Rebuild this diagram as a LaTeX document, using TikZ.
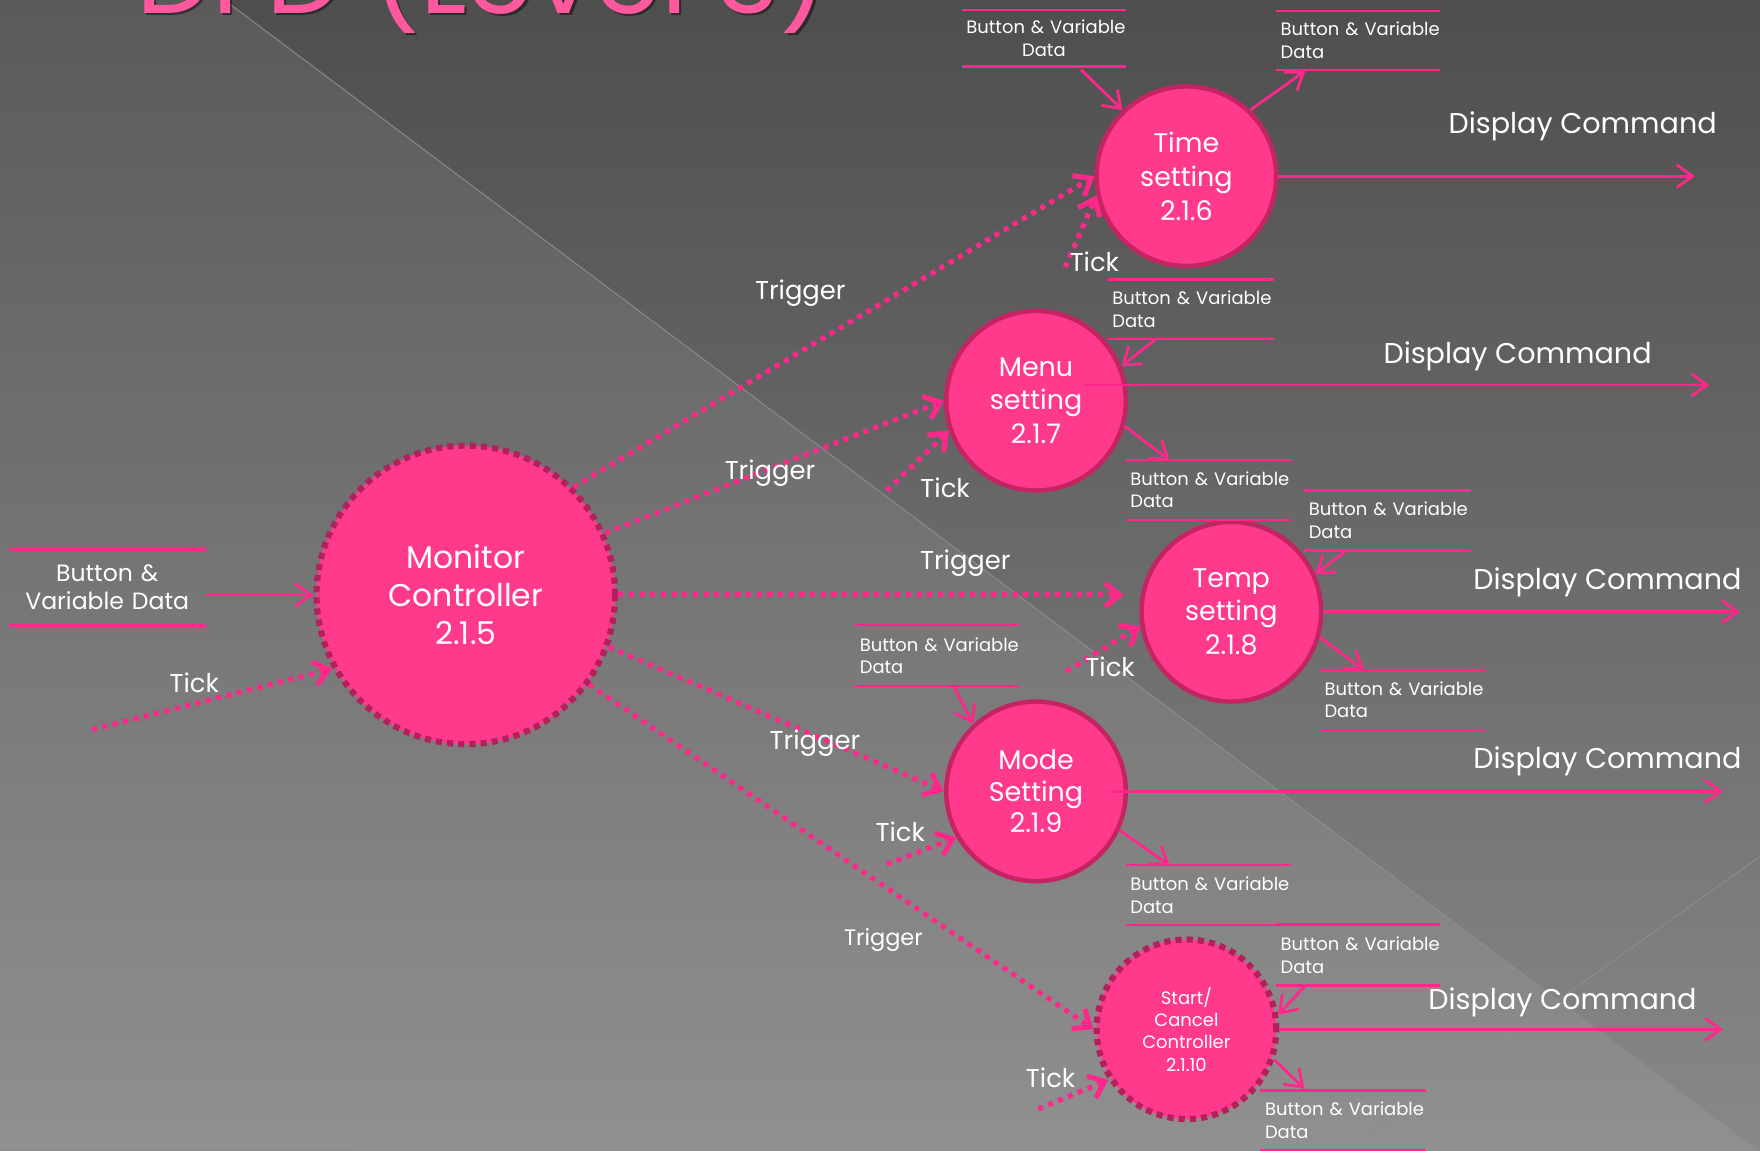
\documentclass[tikz,border=0pt]{standalone}
\usepackage{fontspec}
\setmainfont{Poppins}
\usetikzlibrary{arrows.meta,calc}
\definecolor{pinkfill}{RGB}{255,58,140}
\definecolor{pinkline}{RGB}{255,40,138}
\definecolor{pinkborder}{RGB}{196,36,98}
\definecolor{pinkdash}{RGB}{180,32,92}
\definecolor{titlepink}{RGB}{255,88,158}
\definecolor{bgtop}{RGB}{78,78,78}
\definecolor{bgbot}{RGB}{136,136,136}
\definecolor{bgline}{RGB}{140,140,140}
\newcommand\myfs[2]{\fontsize{#1}{#2}\selectfont}
\newcommand\bvd{\mbox{Button \& Variable}\\Data}
\begin{document}
\begin{tikzpicture}[x=1pt,y=-1pt,
  proc/.style={circle, fill=pinkfill, draw=pinkborder, line width=4pt,
    minimum size=160pt, inner sep=0pt, text=white, align=center,
    font=\myfs{24}{30}},
  dproc/.style={proc, draw=pinkdash, line width=5.5pt, dash pattern=on 5.5pt off 4.5pt},
  storeline/.style={draw=pinkline, line width=2.3pt},
  store/.style={inner xsep=4pt, inner ysep=0pt, text width=#1, text=white,
    align=left, font=\myfs{16}{20},
    append after command={
      (\tikzlastnode.north west) edge[storeline] (\tikzlastnode.north east)
      (\tikzlastnode.south west) edge[storeline] (\tikzlastnode.south east)}},
  flow/.style={draw=pinkline, line width=2.5pt,
    -{Straight Barb[length=14pt,width=20pt]}},
  dflow/.style={draw=pinkline, line width=4.5pt, dash pattern=on 4.5pt off 5pt,
    -{Straight Barb[length=13pt,width=21pt]}},
  lbl/.style={text=white, anchor=base, inner sep=0pt, font=\myfs{23}{26}},
  dlbl/.style={text=white, anchor=base, inner sep=0pt, font=\myfs{25.5}{30}}
]
\useasboundingbox (0,0) rectangle (1568,1025);
\clip (0,0) rectangle (1568,1025);
% background
\shade[top color=bgtop, bottom color=bgbot] (0,0) rectangle (1568,1025);
\fill[white, opacity=0.07] (0,0) -- (200,0) -- (1568,1026) -- (0,1025) -- cycle;
\draw[bgline, line width=0.8pt] (200,0) -- (1568,1026);
\draw[bgline, line width=0.8pt] (1568,763) -- (1200,1025);
% title
\node[anchor=base west, inner sep=0pt, text=black, opacity=0.45, font=\myfs{96}{100}] (titleshadow) at (123,14) {DFD (Level 3)};
\node[anchor=base west, inner sep=0pt, text=titlepink, font=\myfs{96}{100}] (title) at (121,12) {DFD (Level 3)};
% processes
\node[dproc, minimum size=266pt, font=\myfs{28}{34}] (mon) at (415,530) {Monitor\\Controller\\2.1.5};
\node[proc] (time) at (1057,157) {Time\\setting\\2.1.6};
\node[proc] (menu) at (923,357) {Menu\\setting\\2.1.7};
\node[proc] (temp) at (1097,545) {Temp\\setting\\2.1.8};
\node[proc, font=\myfs{24}{28}] (mode) at (923,705) {Mode\\Setting\\2.1.9};
\node[dproc, font=\myfs{16}{20}] (start) at (1057,917) {Start/\\Cancel\\Controller\\2.1.10};
% data stores
\node[store=167pt, align=center, minimum height=67pt, font=\myfs{21}{25}] (sL) at (95.5,523.5) {Button \&\\\mbox{Variable Data}};
\node[store=138pt, align=center, minimum height=50pt] (sTTL) at (930,34) {\bvd};
\node[store=138pt, minimum height=52pt] (sTTR) at (1210,36) {\bvd};
\node[store=140pt, minimum height=53pt] (sMT) at (1061,275.5) {\bvd};
\node[store=139pt, minimum height=53pt] (sMB) at (1076.5,436.5) {\bvd};
\node[store=140pt, minimum height=53pt] (sTpT) at (1236,463.5) {\bvd};
\node[store=139pt, minimum height=53pt] (sTpB) at (1249.5,623.5) {\bvd};
\node[store=138pt, minimum height=54pt] (sMoT) at (835,584) {\bvd};
\node[store=139pt, minimum height=53pt] (sMoB) at (1076.5,797.5) {\bvd};
\node[store=138pt, minimum height=54pt] (sST) at (1210,851) {\bvd};
\node[store=139pt, minimum height=53pt] (sSB) at (1196.5,998) {\bvd};
% free ends
\coordinate (tk0) at (82,650);
\coordinate (tk1) at (949,238);
\coordinate (tk2) at (790,437);
\coordinate (tk3) at (950,598);
\coordinate (tk4) at (790,770);
\coordinate (tk5) at (925,988);
\coordinate (a1) at (963,62);
\coordinate (a2) at (1163,63);
\coordinate (a3) at (1030,302);
\coordinate (a4) at (1042,410);
\coordinate (a5) at (1200,490);
\coordinate (a6) at (1215,597);
\coordinate (a7) at (850,612);
\coordinate (a8) at (1042,771);
\coordinate (a9) at (1163,878);
\coordinate (a10) at (1162,970);
\coordinate (d1) at (1510,157);
\coordinate (d2) at (1523,343);
\coordinate (d3) at (1550,545);
\coordinate (d4) at (1535,705);
\coordinate (d5) at (1535,917);
% inputs to monitor
\draw[flow] (sL.east |- mon.west) -- (mon.west);
\draw[dflow] (tk0) -- (mon.209);
% triggers
\draw[dflow] (mon.45) -- (time.180);
\draw[dflow] (mon.24) -- (menu.180);
\draw[dflow, shorten >=14pt] (mon.east) -- (mon.east -| temp.west);
\draw[dflow] (mon.-20) -- (mode.180);
\draw[dflow] (mon.-36) -- (start.180);
% ticks
\draw[dflow] (tk1) -- (time.192);
\draw[dflow] (tk2) -- (menu.199);
\draw[dflow] (tk3) -- (temp.189);
\draw[dflow] (tk4) -- (mode.210);
\draw[dflow] (tk5) -- (start.213);
% store flows and display commands
\draw[flow] (a1) -- (time.134);
\draw[flow] (time.46) -- (a2);
\draw[flow] (time.0) -- (d1);
\draw[flow] (a3) -- (menu.22);
\draw[flow] ([xshift=42pt,yshift=14pt]menu.center) -- (d2);
\draw[flow] (menu.-16) -- (a4);
\draw[flow] (a5) -- (temp.24);
\draw[flow] (temp.0) -- (d3);
\draw[flow] (temp.-16) -- (a6);
\draw[flow] (a7) -- (mode.133);
\draw[flow] ([xshift=67pt]mode.center) -- (d4);
\draw[flow] (mode.-25) -- (a8);
\draw[flow] (a9) -- (start.9);
\draw[flow] (start.0) -- (d5);
\draw[flow] (start.-19) -- (a10);
% labels
\node[lbl] (ltk0) at (173,617) {Tick};
\node[lbl] (ltr1) at (713,267) {Trigger};
\node[lbl] (ltr2) at (686,427) {Trigger};
\node[lbl] (ltr3) at (860,507) {Trigger};
\node[lbl] (ltr4) at (726,668) {Trigger};
\node[lbl, font=\myfs{20}{24}] (ltr5) at (787,842) {Trigger};
\node[lbl] (ltk1) at (975,242) {Tick};
\node[lbl] (ltk2) at (842,443) {Tick};
\node[lbl] (ltk3) at (989,603) {Tick};
\node[lbl] (ltk4) at (802,750) {Tick};
\node[lbl] (ltk5) at (936,969) {Tick};
\node[dlbl] (ldc1) at (1410,119) {Display Command};
\node[dlbl] (ldc2) at (1352,324) {Display Command};
\node[dlbl] (ldc3) at (1432,525) {Display Command};
\node[dlbl] (ldc4) at (1432,685) {Display Command};
\node[dlbl] (ldc5) at (1392,899) {Display Command};
\end{tikzpicture}
\end{document}
